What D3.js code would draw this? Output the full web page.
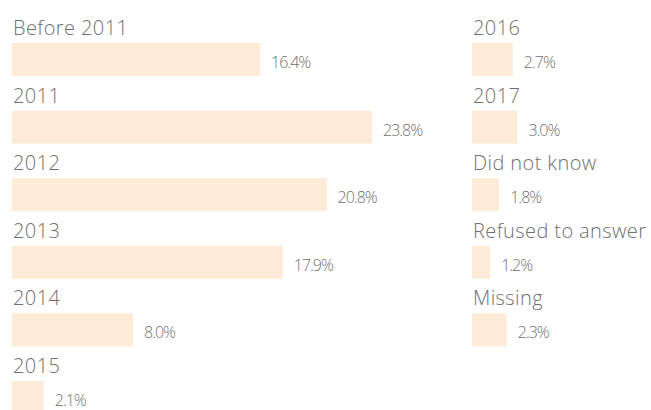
<!DOCTYPE html>
<html>
<head>
<meta charset="utf-8">
<script src="https://cdn.jsdelivr.net/npm/d3@7"></script>
<style>
  body { margin: 0; background: #fff; }
  .cat { font-family: "Open Sans", sans-serif; font-weight: 300; fill: #6f6f6f; letter-spacing: 0.4px; }
  .val { font-family: "Open Sans", sans-serif; font-weight: 300; fill: #6f6f6f; letter-spacing: -1px; }
</style>
</head>
<body>
<div class="chart"></div>
<script>
// data
var leftCategories = ["Before 2011", "2011", "2012", "2013", "2014", "2015"];
var leftValues = [16.4, 23.8, 20.8, 17.9, 8.0, 2.1];
var rightCategories = ["2016", "2017", "Did not know", "Refused to answer", "Missing"];
var rightValues = [2.7, 3.0, 1.8, 1.2, 2.3];

var svgWidth = 651;
var svgHeight = 410;

var svg = d3.select(".chart")
  .append("svg")
  .attr("width", svgWidth)
  .attr("height", svgHeight);

// one shared length scale for both columns
var xScale = d3.scaleLinear()
  .domain([0, d3.max(leftValues)])
  .range([0, 360]);

// row positions (top of each bar)
var yScale = d3.scalePoint()
  .domain(d3.range(leftCategories.length))
  .range([43, 43 + 5 * 67.6]);

var barHeight = 33;

function drawColumn(x0, cats, vals) {
  var data = cats.map(function(c, i) { return { cat: c, val: vals[i], i: i }; });
  var g = svg.append("g").attr("transform", `translate(${x0}, 0)`);

  var rows = g.selectAll("g.row")
    .data(data)
    .enter()
    .append("g")
    .attr("class", "row")
    .attr("transform", d => `translate(0, ${yScale(d.i)})`);

  rows.append("rect")
    .attr("x", 0)
    .attr("y", 0)
    .attr("width", d => xScale(d.val))
    .attr("height", barHeight)
    .style("fill", "#fdebd8");

  rows.append("text")
    .attr("class", "cat")
    .attr("x", 1)
    .attr("y", -8)
    .style("font-size", "20px")
    .text(d => d.cat);

  rows.append("text")
    .attr("class", "val")
    .attr("x", d => xScale(d.val) + 11)
    .attr("y", 25)
    .style("font-size", "16px")
    .text(d => d.val.toFixed(1) + "%");
}

drawColumn(12, leftCategories, leftValues);
drawColumn(472, rightCategories, rightValues);
</script>
</body>
</html>
